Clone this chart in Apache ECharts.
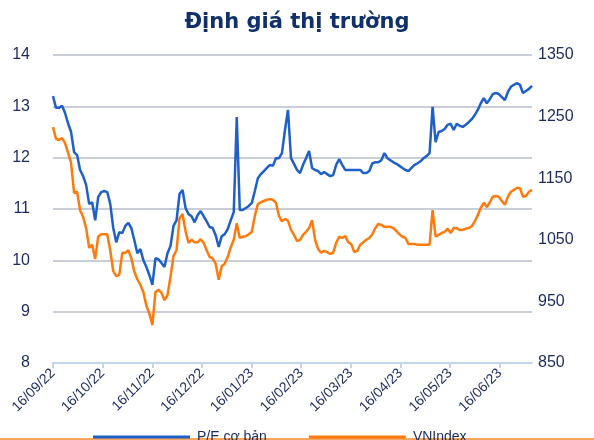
<!DOCTYPE html>
<html>
<head>
<meta charset="utf-8">
<script src="https://cdn.jsdelivr.net/npm/echarts@6/dist/echarts.min.js"></script>
<style>
  html, body { margin: 0; padding: 0; background: #fff; }
  #chart { width: 594px; height: 440px; }
</style>
</head>
<body>
<div id="chart"></div>
<script>
// month labels on the bottom axis (one tick per month)
const monthLabels = ["16/09/22", "16/10/22", "16/11/22", "16/12/22", "16/01/23",
  "16/02/23", "16/03/23", "16/04/23", "16/05/23", "16/06/23"];

// P/E cơ bản (left axis)
const peBasic = [
  13.20, 12.97, 12.97, 13.01, 12.87, 12.67, 12.50, 12.11, 12.05, 11.76,
  11.64, 11.47, 11.10, 11.13, 10.78, 11.23, 11.33, 11.35, 11.33, 11.10,
  10.63, 10.35, 10.55, 10.53, 10.67, 10.73, 10.63, 10.39, 10.14, 10.22,
  10.00, 9.87, 9.71, 9.52, 10.04, 10.02, 9.95, 9.87, 10.14, 10.28,
  10.67, 10.78, 11.29, 11.37, 11.02, 10.90, 10.86, 10.74, 10.88, 10.96,
  10.86, 10.76, 10.65, 10.63, 10.49, 10.26, 10.47, 10.51, 10.61, 10.78,
  10.94, 12.79, 10.98, 10.98, 11.02, 11.06, 11.12, 11.35, 11.60, 11.68,
  11.74, 11.80, 11.86, 11.84, 11.99, 11.99, 12.09, 12.54, 12.93, 11.99,
  11.88, 11.76, 11.70, 11.86, 11.99, 12.13, 11.80, 11.76, 11.74, 11.68,
  11.72, 11.68, 11.64, 11.66, 11.86, 11.97, 11.86, 11.76, 11.76, 11.76,
  11.76, 11.76, 11.76, 11.70, 11.70, 11.74, 11.89, 11.91, 11.91, 11.95,
  12.09, 11.99, 11.95, 11.91, 11.88, 11.84, 11.80, 11.76, 11.74, 11.80,
  11.86, 11.89, 11.93, 11.99, 12.03, 12.09, 12.99, 12.30, 12.50, 12.52,
  12.56, 12.64, 12.66, 12.54, 12.66, 12.62, 12.60, 12.64, 12.69, 12.75,
  12.83, 12.93, 13.06, 13.16, 13.06, 13.14, 13.24, 13.26, 13.24, 13.18,
  13.12, 13.28, 13.38, 13.42, 13.45, 13.42, 13.26, 13.30, 13.34, 13.40
];

// VNIndex (right axis)
const vnIndex = [
  1233, 1214, 1212, 1215, 1207, 1191, 1175, 1126, 1128, 1098,
  1087, 1069, 1037, 1042, 1019, 1055, 1059, 1059, 1059, 1033,
  999, 991, 993, 1029, 1029, 1033, 1020, 998, 986, 977,
  965, 943, 930, 912, 965, 969, 964, 952, 960, 990,
  1024, 1033, 1085, 1092, 1064, 1045, 1050, 1046, 1046, 1051,
  1045, 1033, 1022, 1020, 1011, 985, 1007, 1011, 1022, 1038,
  1050, 1077, 1053, 1055, 1056, 1059, 1063, 1089, 1108, 1111,
  1113, 1115, 1116, 1115, 1110, 1089, 1080, 1084, 1081, 1066,
  1058, 1048, 1050, 1058, 1063, 1069, 1082, 1050, 1035, 1029,
  1032, 1030, 1027, 1029, 1045, 1055, 1053, 1056, 1046, 1043,
  1030, 1032, 1042, 1046, 1050, 1053, 1059, 1069, 1076, 1074,
  1071, 1071, 1071, 1069, 1064, 1059, 1055, 1053, 1043, 1043,
  1043, 1042, 1042, 1042, 1042, 1042, 1098, 1055, 1058, 1061,
  1063, 1068, 1061, 1069, 1069, 1066, 1066, 1068, 1069, 1072,
  1080, 1090, 1102, 1110, 1103, 1111, 1120, 1121, 1120, 1113,
  1107, 1120, 1128, 1131, 1134, 1134, 1120, 1121, 1128, 1131
];

const navy = "#1b2a5c";
const blue = "#1f5fc9";
const orange = "#ff7a0d";
const chart = echarts.init(document.getElementById("chart"));

chart.setOption({
  animation: false,
  title: {
    text: "Định giá thị trường",
    left: "center",
    top: 7,
    textStyle: { fontFamily: "DejaVu Sans", fontSize: 21, fontWeight: "bold", color: "#10306b" }
  },
  legend: {
    left: 88,
    top: 425,
    itemWidth: 97,
    itemHeight: 3,
    itemGap: 42,
    icon: "rect",
    textStyle: { fontFamily: "Liberation Sans", fontSize: 14, color: navy, padding: [0, 0, 0, 2] },
    data: [
      { name: "P/E cơ bản", itemStyle: { color: blue } },
      { name: "VNIndex", itemStyle: { color: orange } }
    ]
  },
  grid: { left: 53, right: 62, top: 55, bottom: 77 },
  xAxis: [
    {
      // data axis: one step per sampled point
      type: "value",
      min: 0,
      max: peBasic.length - 1,
      show: false
    },
    {
      // month labels
      type: "value",
      position: "bottom",
      min: 0,
      max: 9.65,
      axisLine: { show: true, lineStyle: { color: "#c4d4ee", width: 2 } },
      axisTick: { show: true, length: 5, lineStyle: { color: "#c4d4ee", width: 2 }, customValues: monthLabels.map((_, i) => i) },
      splitLine: { show: false },
      axisLabel: {
        customValues: monthLabels.map((_, i) => i),
        formatter: (v) => monthLabels[Math.round(v)] || "",
        rotate: 45,
        margin: 8,
        fontFamily: "Liberation Sans",
        fontSize: 14,
        color: navy
      }
    }
  ],
  yAxis: [
    {
      type: "value",
      min: 8,
      max: 14,
      interval: 1,
      axisLine: { show: false },
      axisTick: { show: false },
      splitLine: { show: true, showMinLine: false, lineStyle: { color: "#c9ced9", width: 2 } },
      axisLabel: { margin: 23, fontFamily: "Liberation Sans", fontSize: 16, color: navy }
    },
    {
      type: "value",
      min: 850,
      max: 1350,
      interval: 100,
      position: "right",
      axisLine: { show: false },
      axisTick: { show: false },
      splitLine: { show: false },
      axisLabel: { margin: 6, fontFamily: "Liberation Sans", fontSize: 16, color: navy, formatter: (v) => String(v) }
    }
  ],
  series: [
    {
      name: "VNIndex",
      type: "line",
      xAxisIndex: 0,
      yAxisIndex: 1,
      data: vnIndex.map((v, i) => [i, v]),
      showSymbol: false,
      symbol: "none",
      itemStyle: { color: orange },
      lineStyle: { color: orange, width: 2.5 }
    },
    {
      name: "P/E cơ bản",
      type: "line",
      xAxisIndex: 0,
      yAxisIndex: 0,
      data: peBasic.map((v, i) => [i, v]),
      showSymbol: false,
      symbol: "none",
      itemStyle: { color: blue },
      lineStyle: { color: blue, width: 2.5 }
    }
  ],
  graphic: [
    { type: "rect", left: 0, top: 438, shape: { width: 594, height: 2 }, style: { fill: "#f6a55e" }, silent: true }
  ]
});
</script>
</body>
</html>
